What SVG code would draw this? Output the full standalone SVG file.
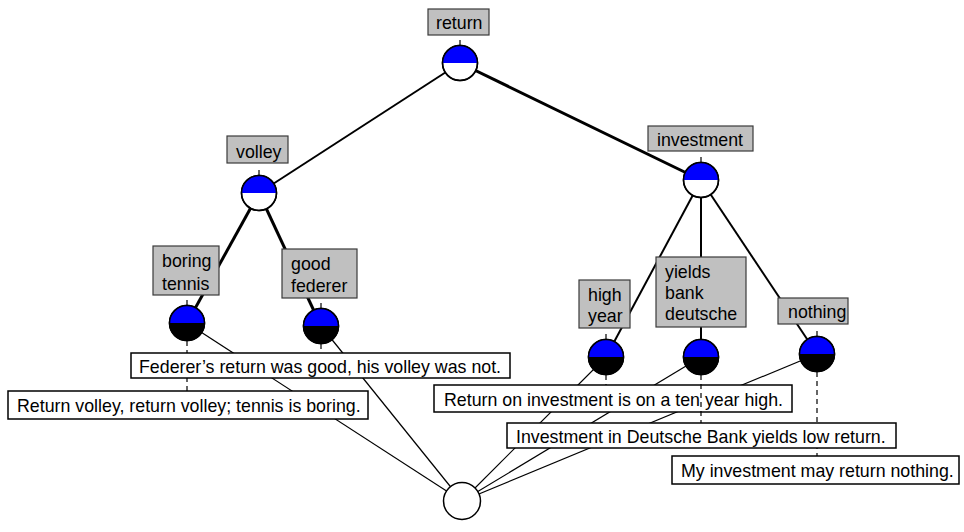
<svg xmlns="http://www.w3.org/2000/svg" width="964" height="532" viewBox="0 0 964 532">
<style>
text{font-family:"Liberation Sans",Arial,sans-serif;font-size:17.8px;fill:#000}
.lbl{fill:#c0c0c0;stroke:#3a3a3a;stroke-width:1.2}
.sent{fill:#fff;stroke:#000;stroke-width:1.5}
.c{stroke:#000;stroke-width:1.5}
.blue{fill:#0000ff}
.tick{stroke:#000;stroke-width:1.2}
.e1{stroke:#000;stroke-width:1.2;fill:none}
.e2{stroke:#000;stroke-width:2;fill:none}
.e3{stroke:#000;stroke-width:3;fill:none}
.d{stroke:#000;stroke-width:1.2;stroke-dasharray:5,4;fill:none}
</style>
<g id="connectors">
<line class="e1" x1="462" y1="501" x2="187" y2="323"/>
<line class="e1" x1="462" y1="501" x2="321" y2="326"/>
<line class="e1" x1="462" y1="501" x2="606" y2="357"/>
<line class="e1" x1="462" y1="501" x2="701" y2="357"/>
<line class="e1" x1="462" y1="501" x2="817" y2="354"/>
<line class="e2" x1="460" y1="63" x2="259" y2="193"/>
<line class="e3" x1="460" y1="63" x2="701" y2="180"/>
<line class="e3" x1="259" y1="193" x2="187" y2="323"/>
<line class="e3" x1="259" y1="193" x2="321" y2="326"/>
<line class="e2" x1="701" y1="180" x2="606" y2="357"/>
<line class="e2" x1="701" y1="180" x2="701" y2="357"/>
<line class="e2" x1="701" y1="180" x2="817" y2="354"/>
<line class="d" x1="187" y1="341" x2="187" y2="391"/>
<line class="d" x1="321" y1="344" x2="321" y2="353"/>
<line class="d" x1="606" y1="375" x2="606" y2="385"/>
<line class="d" x1="817" y1="372" x2="817" y2="456"/>
</g>
<g id="n-return">
<rect class="lbl" x="428" y="9" width="61" height="26"/>
<text x="436" y="29">return</text>
<line class="tick" x1="460" y1="40" x2="460" y2="45"/>
<circle class="c" cx="460" cy="63" r="17.5" fill="#fff"/>
<path class="blue" d="M442.5,63 A17.5,17.5 0 0 1 477.5,63 Z"/>
<circle cx="460" cy="63" r="17.5" fill="none" class="c"/>
</g>
<g id="n-volley">
<rect class="lbl" x="227" y="136" width="61" height="27"/>
<text x="236" y="158">volley</text>
<line class="tick" x1="259" y1="170" x2="259" y2="175"/>
<circle class="c" cx="259" cy="193" r="17.5" fill="#fff"/>
<path class="blue" d="M241.5,193 A17.5,17.5 0 0 1 276.5,193 Z"/>
<circle cx="259" cy="193" r="17.5" fill="none" class="c"/>
</g>
<g id="n-investment">
<rect class="lbl" x="648" y="126" width="105" height="25"/>
<text x="657" y="146">investment</text>
<line class="tick" x1="701" y1="157" x2="701" y2="162"/>
<circle class="c" cx="701" cy="180" r="17.5" fill="#fff"/>
<path class="blue" d="M683.5,180 A17.5,17.5 0 0 1 718.5,180 Z"/>
<circle cx="701" cy="180" r="17.5" fill="none" class="c"/>
</g>
<g id="n-boring-tennis">
<rect class="lbl" x="153" y="246" width="66" height="49"/>
<text x="162" y="267">boring</text>
<text x="162" y="290">tennis</text>
<line class="tick" x1="187" y1="300" x2="187" y2="305"/>
<circle class="c" cx="187" cy="323" r="17.5" fill="#000"/>
<path class="blue" d="M169.5,323 A17.5,17.5 0 0 1 204.5,323 Z"/>
<circle cx="187" cy="323" r="17.5" fill="none" class="c"/>
</g>
<g id="n-good-federer">
<rect class="lbl" x="282" y="249" width="75" height="49"/>
<text x="291" y="270">good</text>
<text x="291" y="292">federer</text>
<line class="tick" x1="321" y1="303" x2="321" y2="308"/>
<circle class="c" cx="321" cy="326" r="17.5" fill="#000"/>
<path class="blue" d="M303.5,326 A17.5,17.5 0 0 1 338.5,326 Z"/>
<circle cx="321" cy="326" r="17.5" fill="none" class="c"/>
</g>
<g id="n-high-year">
<rect class="lbl" x="579" y="280" width="51" height="48"/>
<text x="588" y="301">high</text>
<text x="588" y="322">year</text>
<line class="tick" x1="606" y1="334" x2="606" y2="339"/>
<circle class="c" cx="606" cy="357" r="17.5" fill="#000"/>
<path class="blue" d="M588.5,357 A17.5,17.5 0 0 1 623.5,357 Z"/>
<circle cx="606" cy="357" r="17.5" fill="none" class="c"/>
</g>
<g id="n-yields-bank-deutsche">
<rect class="lbl" x="656" y="257" width="90" height="70"/>
<text x="665" y="278">yields</text>
<text x="665" y="299">bank</text>
<text x="665" y="320">deutsche</text>
<line class="tick" x1="701" y1="334" x2="701" y2="339"/>
<circle class="c" cx="701" cy="357" r="17.5" fill="#000"/>
<path class="blue" d="M683.5,357 A17.5,17.5 0 0 1 718.5,357 Z"/>
<circle cx="701" cy="357" r="17.5" fill="none" class="c"/>
</g>
<g id="n-nothing">
<rect class="lbl" x="778" y="298" width="70" height="26"/>
<text x="788" y="318">nothing</text>
<line class="tick" x1="817" y1="331" x2="817" y2="336"/>
<circle class="c" cx="817" cy="354" r="17.5" fill="#000"/>
<path class="blue" d="M799.5,354 A17.5,17.5 0 0 1 834.5,354 Z"/>
<circle cx="817" cy="354" r="17.5" fill="none" class="c"/>
</g>
<g id="s-federer">
<rect class="sent" x="131" y="353" width="379" height="25"/>
<text x="139" y="373">Federer’s return was good, his volley was not.</text>
</g>
<g id="s-return-volley">
<rect class="sent" x="8" y="391" width="360" height="28"/>
<text x="17" y="412">Return volley, return volley; tennis is boring.</text>
</g>
<g id="s-return-investment">
<rect class="sent" x="434" y="385" width="358" height="27"/>
<text x="444" y="406">Return on investment is on a ten year high.</text>
</g>
<line class="d" x1="701" y1="375" x2="701" y2="423"/>
<g id="s-deutsche">
<rect class="sent" x="507" y="423" width="389" height="25"/>
<text x="516" y="443">Investment in Deutsche Bank yields low return.</text>
</g>
<g id="s-nothing">
<rect class="sent" x="672" y="456" width="287" height="28"/>
<text x="681" y="477">My investment may return nothing.</text>
</g>
<g id="n-bottom">
<circle class="c" cx="462" cy="501" r="18.5" fill="#fff"/>
</g>
</svg>
